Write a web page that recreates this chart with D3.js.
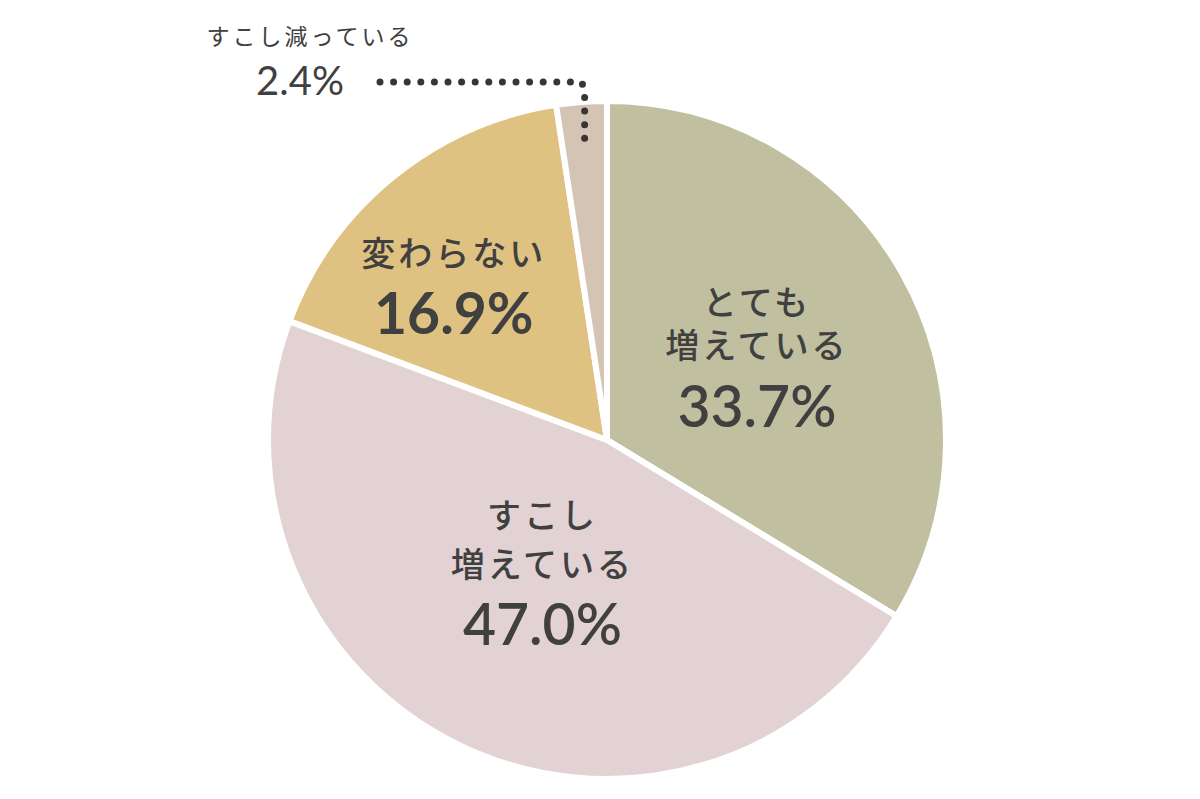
<!DOCTYPE html>
<html><head><meta charset="utf-8">
<script src="https://cdn.jsdelivr.net/npm/d3@7"></script>
<style>
html,body{margin:0;padding:0;background:#fff;}
svg{display:block;}
</style></head>
<body>
<svg id="chart" width="1200" height="799"></svg>
<script>
// ---- data ----
const categories = ["とても増えている", "すこし増えている", "変わらない", "すこし減っている"];
const labelLines = [["とても", "増えている"], ["すこし", "増えている"], ["変わらない"], ["すこし減っている"]];
const values = [33.7, 47.0, 16.9, 2.4];
const valueLabels = ["33.7%", "47.0%", "16.9%", "2.4%"];
const colors = ["#c0bfa0", "#e2d2d4", "#dfc181", "#d3c4b4"];

// ---- layout ----
const W = 1200, H = 799;
const cx = 607, cy = 440, R = 339;
const textColor = "#404040";
const jpFont = "'Noto Sans CJK JP','Noto Sans',sans-serif";
const numFont = "Lato,'Open Sans',sans-serif";

const svg = d3.select("#chart");
const g = svg.append("g").attr("transform", `translate(${cx},${cy})`);

const pie = d3.pie().sort(null).value(d => d).startAngle(0).endAngle(2 * Math.PI);
const arcs = pie(values);
const arc = d3.arc().innerRadius(0).outerRadius(R);

g.selectAll("path.slice").data(arcs).join("path")
  .attr("class", "slice")
  .attr("d", arc)
  .attr("fill", (d, i) => colors[i])
  .attr("stroke", "#fff")
  .attr("stroke-width", 6)
  .attr("stroke-linejoin", "miter");

// label placement (radius along slice mid-angle, then line offsets)
const labelCfg = [
  { r: 172, dx: 0, jpDy: [-41, 2], numDy: 71, numSize: 57, numWeight: 600 },
  { r: 150, dx: 1, jpDy: [-47, 2], numDy: 70, numSize: 57, numWeight: 600 },
  { r: 240, dx: -2, jpDy: [12], numDy: 80, numSize: 57, numWeight: 700 }
];

labelCfg.forEach((cfg, i) => {
  const c = d3.arc().innerRadius(cfg.r).outerRadius(cfg.r).centroid(arcs[i]);
  const x = c[0] + cfg.dx, y = c[1];
  labelLines[i].forEach((line, k) => {
    g.append("text")
      .attr("x", x).attr("y", y + cfg.jpDy[k])
      .attr("text-anchor", "middle")
      .attr("font-family", jpFont).attr("font-size", 34).attr("font-weight", 500)
      .attr("letter-spacing", 3)
      .attr("fill", textColor)
      .text(line);
  });
  g.append("text")
    .attr("x", x).attr("y", y + cfg.numDy)
    .attr("text-anchor", "middle")
    .attr("font-family", numFont).attr("font-size", cfg.numSize).attr("font-weight", cfg.numWeight)
    .attr("fill", textColor)
    .text(valueLabels[i]);
});

// callout for the small slice
const small = arcs[3];
const p0 = d3.arc().innerRadius(297).outerRadius(297).centroid(small);
const elbowY = 82 - cy;
const endX = 380 - cx;
const line = d3.line();
g.append("path")
  .attr("d", line([[endX, elbowY], [p0[0] - 3, elbowY], [p0[0], elbowY + 8], [p0[0], p0[1]]]))
  .attr("fill", "none")
  .attr("stroke", "#3a3535")
  .attr("stroke-width", 7)
  .attr("stroke-linecap", "round")
  .attr("stroke-dasharray", "0 13.6");

svg.append("text")
  .attr("x", 310).attr("y", 45)
  .attr("text-anchor", "middle")
  .attr("font-family", jpFont).attr("font-size", 23).attr("font-weight", 400)
  .attr("letter-spacing", 3)
  .attr("fill", textColor)
  .text(labelLines[3][0]);
svg.append("text")
  .attr("x", 300).attr("y", 95)
  .attr("text-anchor", "middle")
  .attr("font-family", numFont).attr("font-size", 40).attr("font-weight", 400)
  .attr("fill", textColor)
  .text(valueLabels[3]);
</script>
</body></html>
